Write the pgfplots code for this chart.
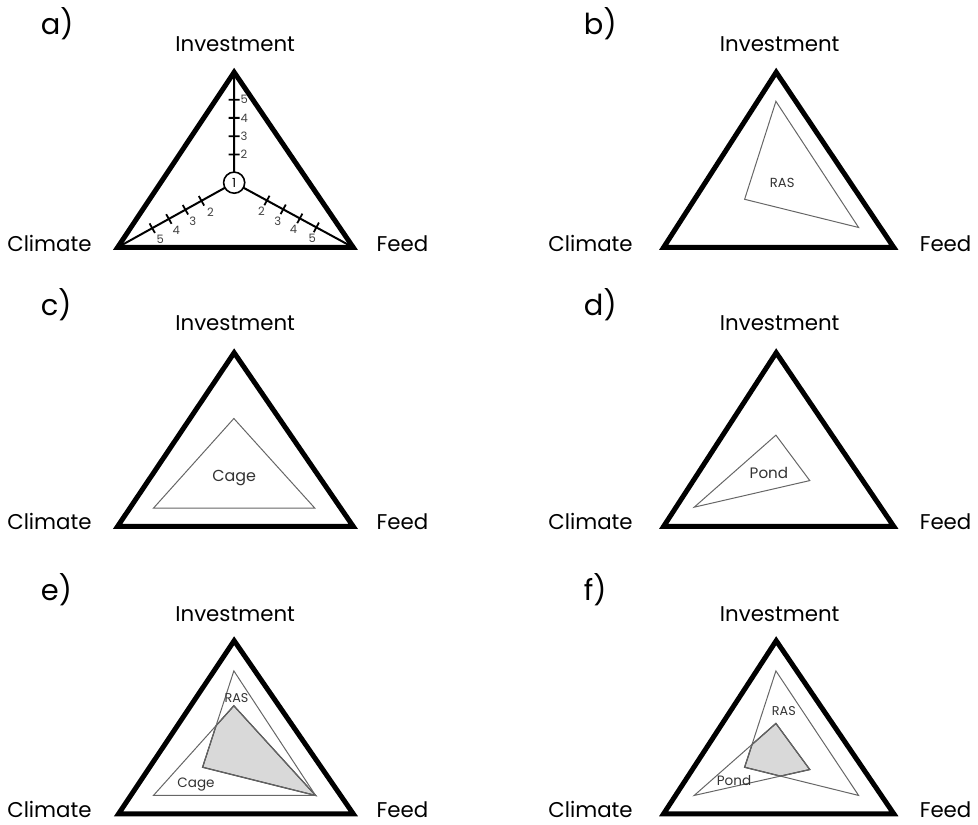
\documentclass[border=0pt]{standalone}
\usepackage{fontspec}
\setmainfont{Poppins}
\usepackage{pgfplots}
\pgfplotsset{compat=1.18}
\begin{document}
\begin{tikzpicture}[
  frame/.style={line width=2.5pt, line join=miter, black},
  poly/.style={line width=0.5pt, black!60},
  shade/.style={fill=black!15, draw=black!80, line width=0.6pt},
  lab/.style={font=\fontsize{10.7}{13}\selectfont},
  plet/.style={font=\fontsize{14.5}{17}\selectfont, anchor=base west},
  tk/.style={font=\fontsize{5.8}{6}\selectfont, text=black!75, inner sep=0pt},
  pl/.style={font=\fontsize{#1}{8}\selectfont, text=black!80},
]
\begin{axis}[x=0.5pt, y=0.5pt, y dir=reverse,
  xmin=0, xmax=978, ymin=0, ymax=827,
  hide axis, clip=false, scale only axis, unbounded coords=jump]
% bounding
\addplot[draw=none] coordinates {(0,0) (978,827)};

% ---------------- frames ----------------
\addplot[frame] coordinates {(235,72.5) (118,248.3) (354.5,248.3)} -- cycle;
\addplot[frame] coordinates {(779,72.5) (666,248.3) (897,248.3)} -- cycle;
\addplot[frame] coordinates {(235,354) (118,528.3) (354.5,528.3)} -- cycle;
\addplot[frame] coordinates {(779,354) (666,528.3) (897,528.3)} -- cycle;
\addplot[frame] coordinates {(235,643) (119,816.7) (354.5,816.7)} -- cycle;
\addplot[frame] coordinates {(779,643) (666,816.7) (897,816.7)} -- cycle;

% ---------------- panel a: axes ----------------
\addplot[line width=1pt] coordinates {(235,183.3) (235,72.5) (nan,nan) (235,183.3) (118,248.3) (nan,nan) (235,183.3) (354.5,248.3)};
% ticks
\addplot[line width=0.9pt] coordinates {
 (229.5,155) (240.5,155) (nan,nan) (229.5,136.7) (240.5,136.7) (nan,nan)
 (229.5,118.3) (240.5,118.3) (nan,nan) (229.5,100) (240.5,100) (nan,nan)
 (199.5,196.7) (204.9,206.3) (nan,nan) (183.4,205.7) (188.8,215.3) (nan,nan)
 (166.8,215.0) (172.2,224.6) (nan,nan) (150.1,224.2) (155.5,233.8) (nan,nan)
 (270.5,196.4) (265.3,206.0) (nan,nan) (286.8,205.3) (281.6,214.9) (nan,nan)
 (303.5,214.4) (298.3,224.0) (nan,nan) (320.1,223.4) (314.9,233.0)};
\addplot[only marks, mark=*, mark size=5.3pt,
  mark options={fill=white, draw=black, line width=0.8pt},
  nodes near coords={1}, nodes near coords align={center},
  every node near coord/.append style={font=\fontsize{6.3}{7}\selectfont, text=black, inner sep=0pt}]
  coordinates {(235,183.3)};
\node[tk, anchor=west] at (axis cs:241,155) {2};
\node[tk, anchor=west] at (axis cs:241,136.7) {3};
\node[tk, anchor=west] at (axis cs:241,118.3) {4};
\node[tk, anchor=west] at (axis cs:241,100) {5};
\node[tk] at (axis cs:211.2,212.5) {2};
\node[tk] at (axis cs:193.5,222.5) {3};
\node[tk] at (axis cs:177,230.8) {4};
\node[tk] at (axis cs:160.8,240) {5};
\node[tk] at (axis cs:262.5,211.7) {2};
\node[tk] at (axis cs:278.8,222) {3};
\node[tk] at (axis cs:294.5,230.5) {4};
\node[tk] at (axis cs:313.5,239) {5};

% ---------------- panel b: RAS ----------------
\addplot[poly] coordinates {(778.7,101.7) (747.3,200) (861.7,228.3)} -- cycle;
\node[pl=6.6] at (axis cs:785,183.3) {RAS};

% ---------------- panel c: Cage ----------------
\addplot[poly] coordinates {(234.7,420) (154,510) (316,510)} -- cycle;
\node[pl=8] at (axis cs:235,480) {Cage};

% ---------------- panel d: Pond ----------------
\addplot[poly] coordinates {(778.7,436.7) (812.7,482.3) (696.7,509)} -- cycle;
\node[pl=7.6] at (axis cs:771.7,475) {Pond};

% ---------------- panel e: RAS + Cage ----------------
\addplot[shade] coordinates {(234.7,708.3) (216.9,728.2) (203.3,770) (316.7,798.3)} -- cycle;
\addplot[poly] coordinates {(234.7,673.3) (203.3,770) (316.7,798.3)} -- cycle;
\addplot[poly] coordinates {(234.7,708.3) (154,798.3) (316.7,798.3)} -- cycle;
\node[pl=6.4] at (axis cs:237.3,701) {RAS};
\node[pl=6.8] at (axis cs:196.7,787.7) {Cage};

% ---------------- panel f: RAS + Pond ----------------
\addplot[shade] coordinates {(778.7,726) (812.7,772.3) (783.3,778.9) (747.3,770) (754.8,747.1)} -- cycle;
\addplot[poly] coordinates {(778.7,673.3) (747.3,770) (861.7,798.3)} -- cycle;
\addplot[poly] coordinates {(778.7,726) (812.7,772.3) (696.7,798.3)} -- cycle;
\node[pl=6.4] at (axis cs:786.7,713.3) {RAS};
\node[pl=6.8] at (axis cs:736.7,783.3) {Pond};

% ---------------- labels ----------------
\node[lab, anchor=base] at (axis cs:236,52) {Investment};
\node[lab, anchor=base] at (axis cs:782.5,52) {Investment};
\node[lab, anchor=base] at (axis cs:236,331.7) {Investment};
\node[lab, anchor=base] at (axis cs:782.5,331.7) {Investment};
\node[lab, anchor=base] at (axis cs:236,623.3) {Investment};
\node[lab, anchor=base] at (axis cs:782.5,623.3) {Investment};

\node[lab, anchor=base east] at (axis cs:99,252) {Climate};
\node[lab, anchor=base east] at (axis cs:642,252) {Climate};
\node[lab, anchor=base east] at (axis cs:99,531.7) {Climate};
\node[lab, anchor=base east] at (axis cs:642,531.7) {Climate};
\node[lab, anchor=base east] at (axis cs:99,820) {Climate};
\node[lab, anchor=base east] at (axis cs:642,820) {Climate};

\node[lab, anchor=base west] at (axis cs:371,252) {Feed};
\node[lab, anchor=base west] at (axis cs:916,252) {Feed};
\node[lab, anchor=base west] at (axis cs:371,531.7) {Feed};
\node[lab, anchor=base west] at (axis cs:916,531.7) {Feed};
\node[lab, anchor=base west] at (axis cs:371,820) {Feed};
\node[lab, anchor=base west] at (axis cs:916,820) {Feed};

\node[plet] at (axis cs:34,35) {a)};
\node[plet] at (axis cs:579,35) {b)};
\node[plet] at (axis cs:34,316.7) {c)};
\node[plet] at (axis cs:579,316.7) {d)};
\node[plet] at (axis cs:34,603) {e)};
\node[plet] at (axis cs:579,603) {f)};
\end{axis}
\end{tikzpicture}
\end{document}
